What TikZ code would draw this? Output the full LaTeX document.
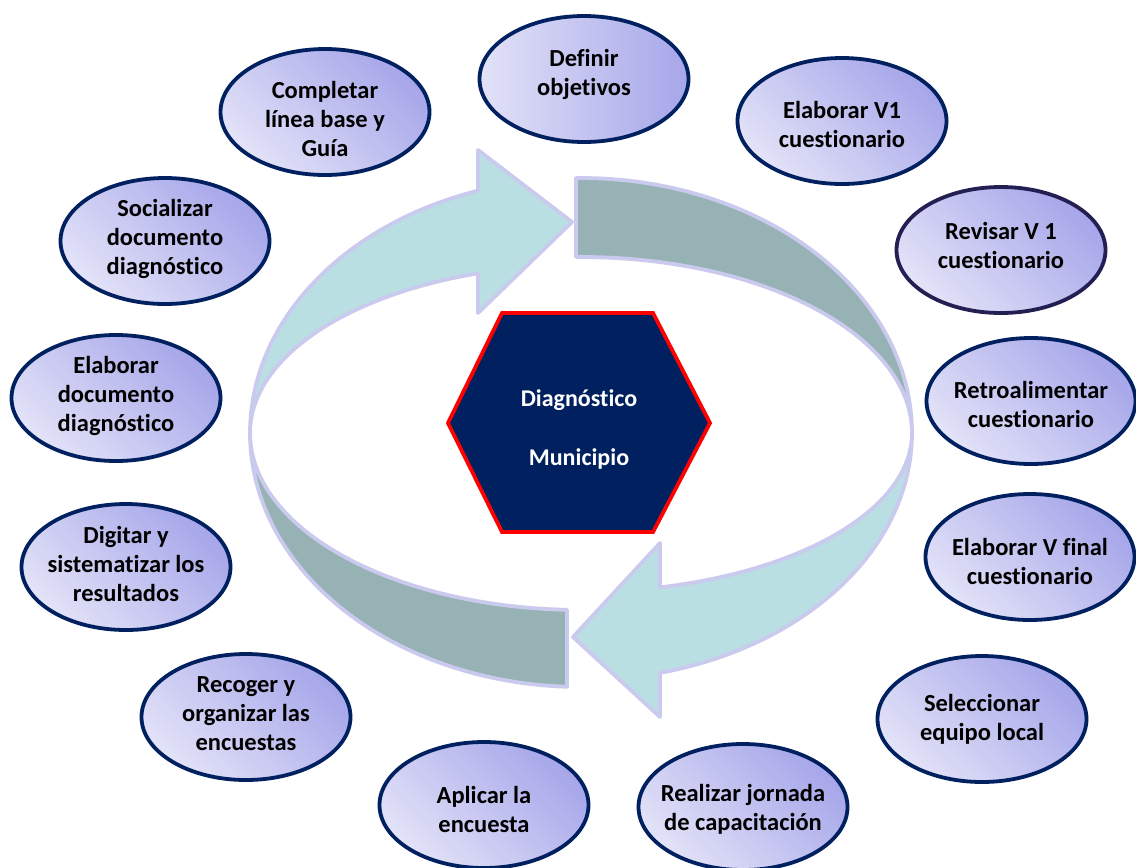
\documentclass[tikz,border=0pt]{standalone}
\usepackage{fontspec}
\setmainfont{Carlito}[Ligatures={NoCommon}]
\usetikzlibrary{shapes.geometric}
\definecolor{navy}{HTML}{002060}
\definecolor{navyp}{HTML}{231F52}
\definecolor{ellL}{HTML}{E2E2F8}
\definecolor{ellD}{HTML}{A6A6EA}
\definecolor{bandB}{HTML}{CACAEE}
\definecolor{cyanF}{HTML}{B9DFE3}
\definecolor{grayF}{HTML}{97B2B5}
\definecolor{hexF}{HTML}{002060}
\definecolor{hexR}{HTML}{FF0000}
\begin{document}
\begin{tikzpicture}[x=1pt,y=-1pt,
  ellip/.style={ellipse, minimum width=209pt, minimum height=126pt, inner sep=0pt,
    draw=navy, line width=3.8pt, top color=ellD, bottom color=ellL, shading angle=-45},
  ellipH/.style={ellipse, minimum width=209pt, minimum height=126pt, inner sep=0pt,
    draw=navy, line width=3.8pt, left color=ellL, right color=ellD},
  txt/.style={font=\fontsize{24.5}{29}\selectfont\bfseries, align=center, text=black, inner sep=0pt},
  band/.style={draw=bandB, line width=3.8pt, line join=round},
  hextxt/.style={font=\fontsize{24}{29}\selectfont\bfseries, text=white, inner sep=0pt, anchor=base}
]
\useasboundingbox[fill=white] (0,0) rectangle (1136,868);

% circular arrows
\draw[band, fill=grayF] plot[domain=90.87:0, samples=60] ({581+331*cos(\x)},{433-255*sin(\x)})
  -- plot[domain=0:90.87, samples=60] ({581+331*cos(\x)},{433-176*sin(\x)}) -- cycle;
\draw[band, fill=grayF] plot[domain=267.58:180, samples=60] ({581+331*cos(\x)},{433-254*sin(\x)})
  -- plot[domain=180:267.58, samples=60] ({581+331*cos(\x)},{433-177*sin(\x)}) -- cycle;
\draw[band, fill=cyanF] plot[domain=180:108.13, samples=60] ({581+331*cos(\x)},{433-255*sin(\x)})
  -- (478,150) -- (572,222) -- (478,313)
  -- plot[domain=108.13:180, samples=60] ({581+331*cos(\x)},{433-168*sin(\x)}) -- cycle;
\draw[band, fill=cyanF] plot[domain=360:283.81, samples=60] ({581+331*cos(\x)},{433-247*sin(\x)})
  -- (660,717) -- (573,637) -- (660,543)
  -- plot[domain=283.81:360, samples=60] ({581+331*cos(\x)},{433-159*sin(\x)}) -- cycle;

% hexagon
\draw[fill=hexF, draw=hexR, line width=3.8pt, line join=miter]
  (502,313) -- (653,313) -- (710,423) -- (653,532) -- (502,532) -- (448,423) -- cycle;
\node[hextxt] (hd) at (579,406) {Diagnóstico};
\node[hextxt] (hm) at (579,465) {Municipio};

% ellipses
\node[ellipH] (n1) at (584,79) {};
\node[txt] (t1) at (584,74) {Definir\\objetivos};
\node[ellip] (n2) at (842,121) {};
\node[txt] (t2) at (842,124) {Elaborar V1\\cuestionario};
\node[ellip, draw=navyp] (n3) at (1001,250) {};
\node[txt] (t3) at (1001,245) {Revisar V 1\\cuestionario};
\node[ellip] (n4) at (1031,401) {};
\node[txt] (t4) at (1031,404) {Retroalimentar\\cuestionario};
\node[ellip] (n5) at (1030,557) {};
\node[txt] (t5) at (1030,561) {Elaborar V final\\cuestionario};
\node[ellip] (n6) at (982,719) {};
\node[txt] (t6) at (982,719) {Seleccionar\\equipo local};
\node[ellip] (n7) at (743,807) {};
\node[txt] (t7) at (743,809) {Realizar jornada\\de capacitación};
\node[ellip] (n8) at (484,805) {};
\node[txt] (t8) at (484,809) {Aplicar la\\encuesta};
\node[ellip] (n9) at (246,717) {};
\node[txt] (t9) at (246,714) {Recoger y\\organizar las\\encuestas};
\node[ellip] (n10) at (126,567) {};
\node[txt] (t10) at (126,564) {Digitar y\\sistematizar los\\resultados};
\node[ellip] (n11) at (116,398) {};
\node[txt] (t11) at (116,396) {Elaborar\\documento\\diagnóstico};
\node[ellip] (n12) at (165,241) {};
\node[txt] (t12) at (165,239) {Socializar\\documento\\diagnóstico};
\node[ellip] (n13) at (325,112) {};
\node[txt] (t13) at (325,119) {Completar\\línea base y\\Guía};
\end{tikzpicture}
\end{document}
